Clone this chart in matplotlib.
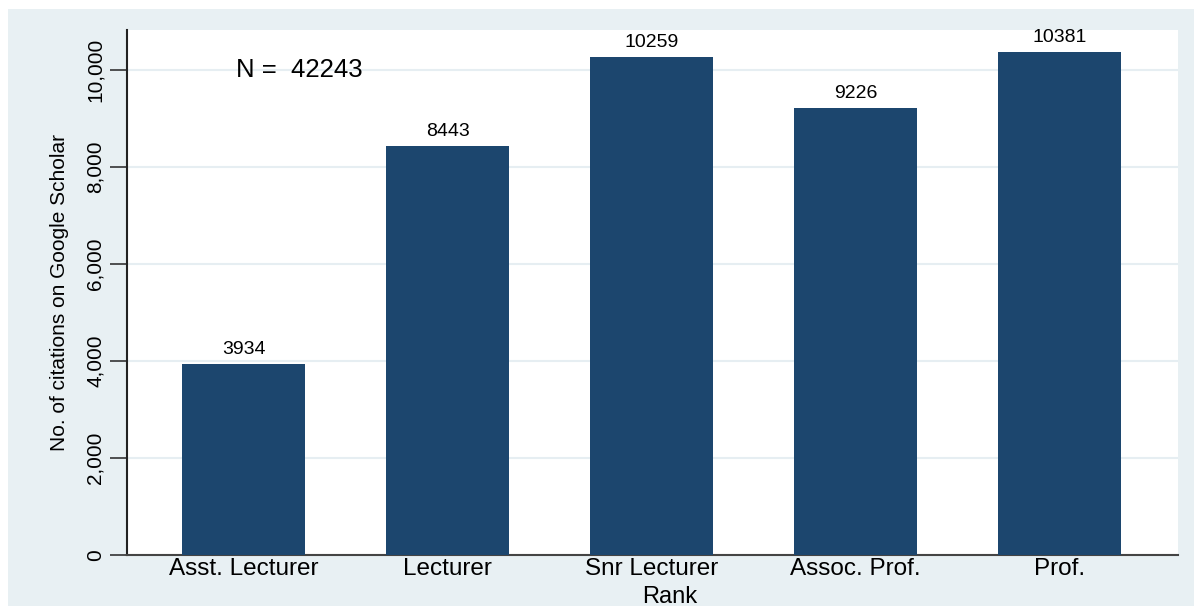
import matplotlib
matplotlib.use("Agg")
import matplotlib.pyplot as plt
from matplotlib.patches import Rectangle

categories = ["Asst. Lecturer", "Lecturer", "Snr Lecturer", "Assoc. Prof.", "Prof."]
citations = [3934, 8443, 10259, 9226, 10381]
yticks = [0, 2000, 4000, 6000, 8000, 10000]
ytick_labels = ["0", "2,000", "4,000", "6,000", "8,000", "10,000"]
total_n = 42243

plt.rcParams['font.family'] = ['Liberation Sans', 'DejaVu Sans']

W, H = 1194, 607
fig = plt.figure(figsize=(W / 100, H / 100), dpi=100, facecolor="white")
bg = "#e8f0f3"
fig.patches.append(Rectangle((8 / W, 1 / H), 1 - 8 / W, 597 / H,
                             transform=fig.transFigure, facecolor=bg,
                             edgecolor="none", zorder=-10))

ax = fig.add_axes([127 / W, 52 / H, 1051 / W, 525 / H])
ax.set_facecolor("white")
x = list(range(len(categories)))
ax.bar(x, citations, width=0.603, color="#1c466e", zorder=3)
for xi, v in zip(x, citations):
    ax.text(xi, v + 206, str(v), ha="center", va="baseline", fontsize=14, color="black")

ax.set_xlim(-0.571, 4.58)
ax.set_ylim(0, 10825)
ax.set_yticks(yticks)
ax.set_yticklabels(ytick_labels, rotation=90, va="center", fontsize=15)
ax.set_xticks(x)
ax.set_xticklabels(categories, fontsize=17.5)
ax.tick_params(axis="x", length=0, pad=2)
ax.tick_params(axis="y", length=12, width=1.2, color="#333333", pad=4)
ax.grid(axis="y", color="#e6eef2", linewidth=1.5, zorder=0)
ax.set_axisbelow(True)
for s in ["top", "right"]:
    ax.spines[s].set_visible(False)
ax.spines["left"].set_color("#222222")
ax.spines["left"].set_linewidth(1.5)
ax.spines["bottom"].set_color("#444444")
ax.spines["bottom"].set_linewidth(1.5)

ax.set_ylabel("No. of citations on Google Scholar", fontsize=15, labelpad=12)
fig.text(670 / W, (H - 603) / H, "Rank", fontsize=17, ha="center", va="baseline")
ax.text(-0.037, 9856, f"N =  {total_n}", fontsize=18.5, va="baseline", ha="left")

fig.savefig("out.png", dpi=100, facecolor="white")
